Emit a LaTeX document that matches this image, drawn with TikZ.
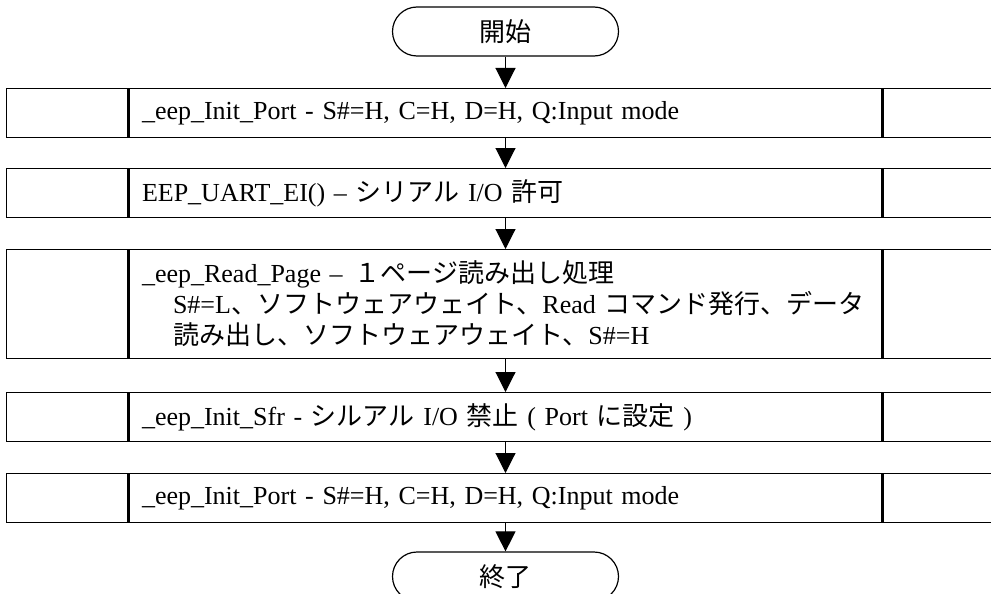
\documentclass[tikz,border=0pt]{standalone}
\usepackage{fontspec}
\setmainfont{Liberation Serif}
\newfontfamily\jpfont{Noto Sans CJK JP}
\usetikzlibrary{arrows.meta}
\newcommand\J[1]{{\jpfont #1}}
\begin{document}
\begin{tikzpicture}[x=1pt,y=1pt,
  every node/.style={font=\fontsize{26}{31}\selectfont},
  midbox/.style={draw, line width=1.2pt, minimum height=49pt, text width=727pt,
    inner xsep=13pt, inner ysep=0pt, align=left, anchor=north},
  sidebox/.style={draw, line width=1.2pt, minimum width=121pt, inner sep=0pt},
  term/.style={draw, line width=1.2pt, rounded corners=24.5pt, minimum width=226pt,
    minimum height=49pt, inner sep=0pt},
  flow/.style={line width=1.1pt, -{Triangle[width=20pt,length=20pt]}}
]
\useasboundingbox (0,0) rectangle (991,-594);
\clip (0,0) rectangle (991,-594);

\node[term] (start) at (505.5,-31.5) {\J{開始}};

\node[midbox] (b1) at (505.5,-88) {\_eep\_Init\_Port - S\#=H, C=H, D=H, Q:Input mode};
\node[midbox] (b2) at (505.5,-168) {EEP\_UART\_EI() – \J{シリアル} I/O \J{許可}};
\node[midbox, minimum height=109pt] (b3) at (505.5,-249) {\_eep\_Read\_Page –\hspace{12pt}\J{１ページ読み出し処理}\\
\hspace*{31pt}S\#=L\J{、ソフトウェアウェイト、}Read \J{コマンド発行、データ}\\
\hspace*{31pt}\J{読み出し、ソフトウェアウェイト、}S\#=H};
\node[midbox] (b4) at (505.5,-392) {\_eep\_Init\_Sfr - \J{シルアル} I/O \J{禁止} ( Port \J{に設定} )};
\node[midbox] (b5) at (505.5,-473) {\_eep\_Init\_Port - S\#=H, C=H, D=H, Q:Input mode};

\foreach \b/\h in {b1/49,b2/49,b3/109,b4/49,b5/49}{
  \node[sidebox, minimum height=\h pt, anchor=north east] (\b l) at (\b.north west) {};
  \node[sidebox, minimum height=\h pt, anchor=north west] (\b r) at (\b.north east) {};
}

\node[term] (end) at (505.5,-576.5) {\J{終了}};

\draw[flow] (start) -- (b1);
\draw[flow] (b1) -- (b2);
\draw[flow] (b2) -- (b3);
\draw[flow] (b3) -- (b4);
\draw[flow] (b4) -- (b5);
\draw[flow] (b5) -- (end);
\end{tikzpicture}
\end{document}
